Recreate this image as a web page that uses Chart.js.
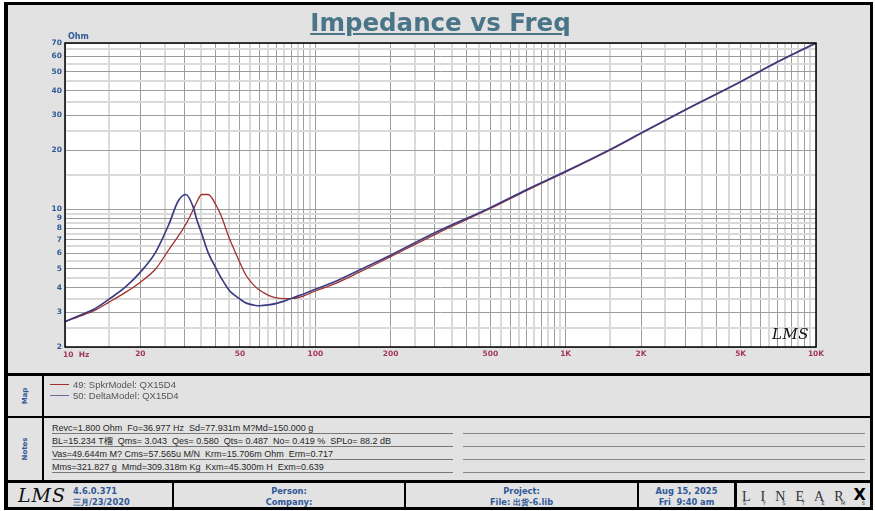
<!DOCTYPE html>
<html>
<head>
<meta charset="utf-8">
<title>Impedance vs Freq</title>
<script src="https://cdn.jsdelivr.net/npm/chart.js@4.4.1/dist/chart.umd.min.js"></script>
<style>
  html, body { margin: 0; padding: 0; background: #fff; }
  #page { position: relative; width: 875px; height: 511px; overflow: hidden; font-family: "Liberation Sans", Arial, sans-serif; }
  #frame { position: absolute; left: 4px; top: 2px; width: 862px; height: 502px; background: #e2e2e2; border: solid #000; border-width: 3px 3px 3px 4px; }
  #chart { position: absolute; left: 0; top: 0; }
  .abs { position: absolute; white-space: pre; }
  .bar { position: absolute; background: #000; }
  #title { left: 3px; top: 8px; width: 875px; text-align: center; font: bold 24.5px "DejaVu Sans", sans-serif; color: #4a7588;
           text-decoration: underline; text-decoration-thickness: 2px; text-underline-offset: 2px; }
  .blue { color: #2f5897; font-family: "DejaVu Sans", sans-serif; font-weight: bold; }
  .side { width: 40px; height: 10px; line-height: 10px; text-align: center; font-size: 7px; transform: rotate(-90deg); }
  .legend { left: 73px; font-size: 9.5px; line-height: 11px; color: #555; }
  .swatch { position: absolute; left: 50px; width: 19px; height: 1px; }
  .note { left: 52px; width: 401px; height: 10px; line-height: 10px; font-size: 9px; color: #262626; border-bottom: 1px solid #777; }
  .noteR { position: absolute; left: 463px; width: 402px; height: 0; border-bottom: 1px solid #888; }
  .foot { font-size: 8.3px; line-height: 10.5px; text-align: center; }
</style>
</head>
<body>
<div id="page">
  <div id="frame"></div>

  <!-- panel separators -->
  <div class="bar" style="left:8px; top:373px; width:862px; height:3px;"></div>
  <div class="bar" style="left:8px; top:416px; width:862px; height:2px;"></div>
  <div class="bar" style="left:8px; top:480px; width:862px; height:3px;"></div>
  <div class="bar" style="left:42px; top:376px; width:2px; height:104px;"></div>
  <div class="bar" style="left:172px; top:483px; width:2px; height:24px;"></div>
  <div class="bar" style="left:404px; top:483px; width:2px; height:24px;"></div>
  <div class="bar" style="left:637px; top:483px; width:2px; height:24px;"></div>
  <div class="bar" style="left:734px; top:483px; width:3px; height:24px;"></div>

  <canvas id="chart" width="875" height="372"></canvas>

  <div id="title" class="abs">Impedance vs Freq</div>
  <div class="abs blue" style="left:68px; top:32px; font-size:8px;">Ohm</div>
  <div class="abs" style="left:63px; top:350px; font:bold 7.5px 'DejaVu Sans', sans-serif; color:#a3365e;">10  Hz</div>
  <div class="abs" style="left:772px; top:325px; font:italic 15px 'DejaVu Serif', serif; color:#111; letter-spacing:0.5px;">LMS</div>

  <!-- Map panel -->
  <div class="abs blue side" style="left:5px; top:391px;">Map</div>
  <div class="swatch" style="top:384px; background:#a0302e;"></div>
  <div class="abs legend" style="top:379px;">49: SpkrModel: QX15D4</div>
  <div class="swatch" style="top:395px; background:#6a6a9a;"></div>
  <div class="abs legend" style="top:390px;">50: DeltaModel: QX15D4</div>

  <!-- Notes panel -->
  <div class="abs blue side" style="left:5px; top:444px;">Notes</div>
  <div class="abs note" style="top:423px;">Revc=1.800 Ohm  Fo=36.977 Hz  Sd=77.931m M?Md=150.000 g</div>
  <div class="abs note" style="top:436px;">BL=15.234 T榴  Qms= 3.043  Qes= 0.580  Qts= 0.487  No= 0.419 %  SPLo= 88.2 dB</div>
  <div class="abs note" style="top:449px;">Vas=49.644m M? Cms=57.565u M/N  Krm=15.706m Ohm  Erm=0.717</div>
  <div class="abs note" style="top:462px;">Mms=321.827 g  Mmd=309.318m Kg  Kxm=45.300m H  Exm=0.639</div>
  <div class="noteR" style="top:433px;"></div>
  <div class="noteR" style="top:446px;"></div>
  <div class="noteR" style="top:459px;"></div>
  <div class="noteR" style="top:472px;"></div>

  <!-- footer -->
  <div class="abs" style="left:18px; top:484px; font:italic 19px 'DejaVu Serif', serif; color:#111; letter-spacing:1px;">LMS</div>
  <div class="abs blue foot" style="left:73px; top:486px; text-align:left;">4.6.0.371<br>三月/23/2020</div>
  <div class="abs blue foot" style="left:174px; top:486px; width:230px;">Person:<br>Company:</div>
  <div class="abs blue foot" style="left:406px; top:486px; width:231px;">Project:<br>File: 出货-6.lib</div>
  <div class="abs blue foot" style="left:639px; top:486px; width:95px;">Aug 15, 2025<br>Fri  9:40 am</div>
  <div class="abs" style="left:742px; top:485px; width:124px; display:flex; justify-content:space-between; align-items:flex-end; font:14px 'Liberation Serif', serif; color:#333; line-height:14px;">
    <span>L</span><span>I</span><span>N</span><span>E</span><span>A</span><span>R</span><span style="font:bold 16px 'DejaVu Sans', sans-serif; color:#000;">X</span>
  </div>
  <div class="abs" style="left:743px; top:500px; width:122px; display:flex; justify-content:space-between; font:5px 'DejaVu Sans', sans-serif; color:#333;">
    <span>S</span><span>Y</span><span>S</span><span>T</span><span>E</span><span>M</span><span>S</span>
  </div>
</div>

<script>
// Frequency points (Hz)
const freqHz = [10, 12, 13, 15, 17.5, 20, 23, 26, 28.3, 30.4, 32.5, 33.5, 35.2, 37.3, 40.3, 42, 45.5, 47, 50, 53,
                57, 60, 65, 70, 75, 82, 90, 100, 120, 150, 200, 300, 500, 700, 1000, 1500, 2000, 3000, 5000, 7000, 10000];

// 49: SpkrModel impedance (Ohm)
const spkrOhm = [2.69, 2.93, 3.05, 3.38, 3.8, 4.27, 4.98, 6.25, 7.3, 8.4, 9.95, 10.8, 11.9, 11.9, 10.4, 9.3, 7.05, 6.4, 5.35, 4.6,
                 4.1, 3.88, 3.66, 3.55, 3.52, 3.53, 3.64, 3.85, 4.2, 4.8, 5.75, 7.45, 10.1, 12.5, 15.5, 20, 24.3, 32, 44.5, 56, 70];

// 50: DeltaModel impedance (Ohm)
const deltaOhm = [2.69, 2.97, 3.1, 3.5, 4.05, 4.8, 6.05, 8.4, 11.0, 11.9, 10.3, 9.0, 7.5, 6.03, 4.97, 4.5, 3.85, 3.71, 3.5, 3.34,
                  3.26, 3.24, 3.27, 3.33, 3.42, 3.57, 3.72, 3.93, 4.3, 4.92, 5.85, 7.6, 10.2, 12.6, 15.6, 20.1, 24.4, 32, 44.5, 56, 70];

// Tick labels shown on each axis (10 Hz is written separately with its "Hz" unit)
const xLabelHz = [20, 50, 100, 200, 500, 1000, 2000, 5000, 10000];
const xLabelText = ["20", "50", "100", "200", "500", "1K", "2K", "5K", "10K"];
const yLabelOhm = [2, 3, 4, 5, 6, 7, 8, 9, 10, 20, 30, 40, 50, 60, 70];

// Log grid: a line at every 1..9 step of each decade, plus lighter half-steps
function buildGrid(min, max) {
  const out = [];
  for (let d = Math.floor(Math.log10(min) + 1e-9); d <= Math.ceil(Math.log10(max)); d++) {
    for (let m = 1; m < 10; m += 0.5) {
      const v = Math.round(m * Math.pow(10, d) * 1000) / 1000;
      if (v >= min - 1e-9 && v <= max + 1e-9) out.push(v);
    }
  }
  return out;
}

function isHalfStep(v) {
  const m = v / Math.pow(10, Math.floor(Math.log10(v) + 1e-9));
  return Math.abs(m - Math.round(m)) > 0.25;
}

const same = (a, b) => Math.abs(a - b) < 1e-6 * b;

const xGrid = buildGrid(10, 10000);
const yGrid = buildGrid(2, 70);

// White plot background and black frame around the chart area
const plotFrame = {
  id: "plotFrame",
  beforeDraw(chart) {
    const a = chart.chartArea, ctx = chart.ctx;
    ctx.save();
    ctx.fillStyle = "#fff";
    ctx.fillRect(a.left, a.top, a.right - a.left, a.bottom - a.top);
    ctx.restore();
  },
  afterDraw(chart) {
    const a = chart.chartArea, ctx = chart.ctx;
    ctx.save();
    ctx.strokeStyle = "#000";
    ctx.lineWidth = 1.5;
    ctx.strokeRect(a.left, a.top, a.right - a.left, a.bottom - a.top);
    ctx.restore();
  }
};

const gridStyle = {
  drawTicks: false,
  color: ctx => (isHalfStep(ctx.tick.value) ? "#dadada" : "#9c9c9c"),
  lineWidth: ctx => (isHalfStep(ctx.tick.value) ? 2 : 1)
};

const tickFont = { family: "DejaVu Sans", size: 7.5, weight: "bold" };

new Chart(document.getElementById("chart").getContext("2d"), {
  type: "line",
  data: {
    datasets: [
      {
        label: "49: SpkrModel: QX15D4",
        data: freqHz.map((f, i) => ({ x: f, y: spkrOhm[i] })),
        borderColor: "#a0302e",
        borderWidth: 1.3,
        order: 1
      },
      {
        label: "50: DeltaModel: QX15D4",
        data: freqHz.map((f, i) => ({ x: f, y: deltaOhm[i] })),
        borderColor: "#3c3c82",
        borderWidth: 1.7,
        order: 0
      }
    ]
  },
  options: {
    responsive: false,
    animation: false,
    devicePixelRatio: 1,
    events: [],
    layout: { padding: { top: 43, right: 59, bottom: 11, left: 0 } },
    elements: {
      point: { radius: 0 },
      line: { cubicInterpolationMode: "monotone" }
    },
    plugins: { legend: { display: false }, tooltip: { enabled: false }, title: { display: false } },
    scales: {
      x: {
        type: "logarithmic",
        min: 10,
        max: 10000,
        afterBuildTicks: s => { s.ticks = xGrid.map(v => ({ value: v })); },
        afterFit: s => { s.height = 14; },
        grid: gridStyle,
        border: { display: false },
        ticks: {
          autoSkip: false,
          maxRotation: 0,
          padding: 3,
          color: "#a3365e",
          font: tickFont,
          callback: v => {
            const i = xLabelHz.findIndex(h => same(h, v));
            return i >= 0 ? xLabelText[i] : "";
          }
        }
      },
      y: {
        type: "logarithmic",
        min: 2,
        max: 70,
        afterBuildTicks: s => { s.ticks = yGrid.map(v => ({ value: v })); },
        afterFit: s => { s.width = 65; },
        grid: gridStyle,
        border: { display: false },
        ticks: {
          autoSkip: false,
          padding: 3,
          color: "#2f5897",
          font: tickFont,
          callback: v => (yLabelOhm.some(o => same(o, v)) ? String(v) : "")
        }
      }
    }
  },
  plugins: [plotFrame]
});
</script>
</body>
</html>
